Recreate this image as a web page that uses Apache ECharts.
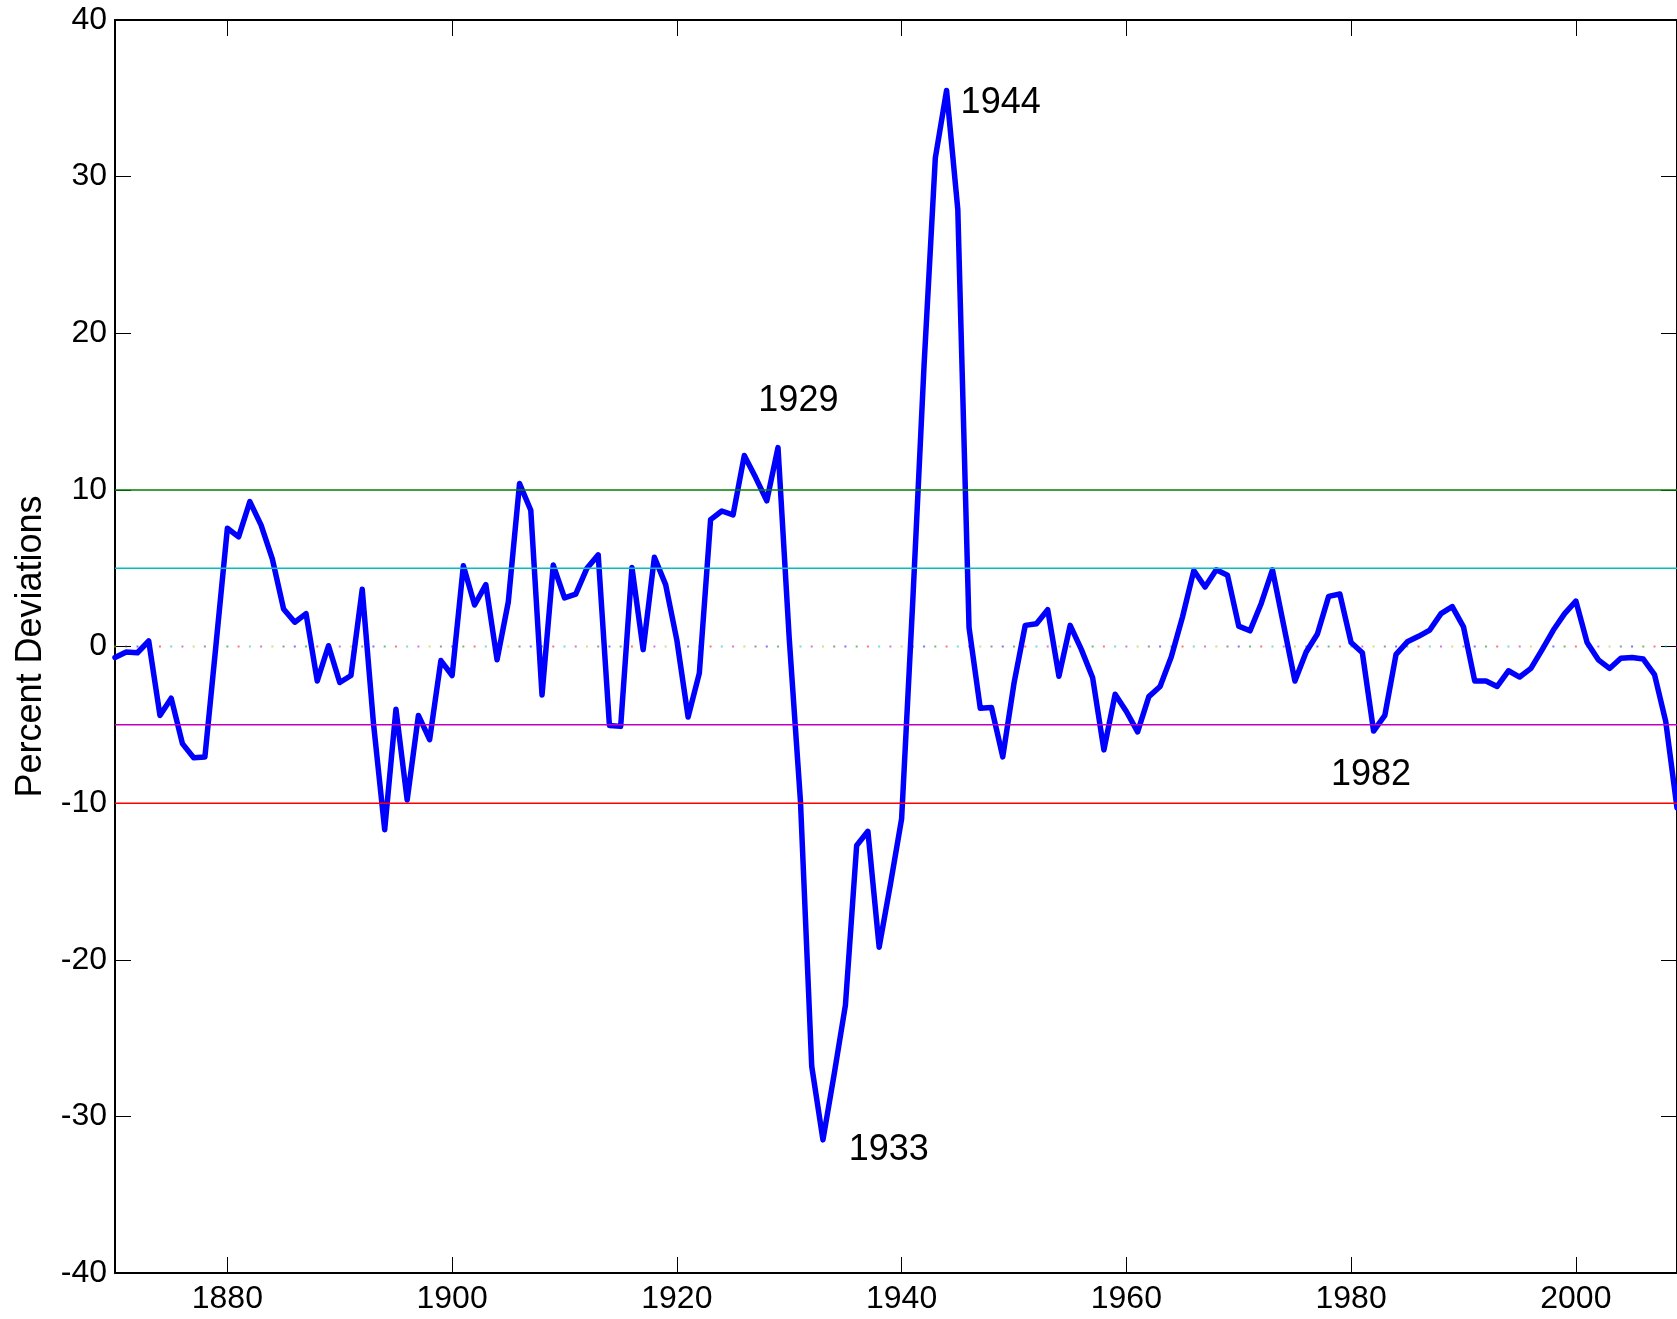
<!DOCTYPE html>
<html>
<head>
<meta charset="utf-8">
<title>Percent Deviations</title>
<script src="https://cdn.jsdelivr.net/npm/echarts@6/dist/echarts.min.js"></script>
<style>
  html, body { margin: 0; padding: 0; background: #fff; }
  #chart { width: 1677px; height: 1319px; }
</style>
</head>
<body>
<div id="chart"></div>
<script>
// years on the x axis
var years = [
  1870, 1871, 1872, 1873, 1874, 1875, 1876, 1877, 1878, 1879,
  1880, 1881, 1882, 1883, 1884, 1885, 1886, 1887, 1888, 1889,
  1890, 1891, 1892, 1893, 1894, 1895, 1896, 1897, 1898, 1899,
  1900, 1901, 1902, 1903, 1904, 1905, 1906, 1907, 1908, 1909,
  1910, 1911, 1912, 1913, 1914, 1915, 1916, 1917, 1918, 1919,
  1920, 1921, 1922, 1923, 1924, 1925, 1926, 1927, 1928, 1929,
  1930, 1931, 1932, 1933, 1934, 1935, 1936, 1937, 1938, 1939,
  1940, 1941, 1942, 1943, 1944, 1945, 1946, 1947, 1948, 1949,
  1950, 1951, 1952, 1953, 1954, 1955, 1956, 1957, 1958, 1959,
  1960, 1961, 1962, 1963, 1964, 1965, 1966, 1967, 1968, 1969,
  1970, 1971, 1972, 1973, 1974, 1975, 1976, 1977, 1978, 1979,
  1980, 1981, 1982, 1983, 1984, 1985, 1986, 1987, 1988, 1989,
  1990, 1991, 1992, 1993, 1994, 1995, 1996, 1997, 1998, 1999,
  2000, 2001, 2002, 2003, 2004, 2005, 2006, 2007, 2008, 2009
];

// percent deviation for each year
var deviations = [
  -0.7, -0.35, -0.4, 0.35, -4.4, -3.3, -6.2, -7.1, -7.05, 0.2,
  7.55, 7.0, 9.25, 7.75, 5.6, 2.4, 1.55, 2.1, -2.2, 0.05,
  -2.3, -1.85, 3.65, -4.9, -11.7, -4.0, -9.8, -4.4, -5.95, -0.9,
  -1.85, 5.15, 2.65, 3.95, -0.85, 2.85, 10.4, 8.7, -3.1, 5.2,
  3.1, 3.35, 5.0, 5.85, -5.05, -5.1, 5.05, -0.2, 5.7, 3.95,
  0.4, -4.5, -1.7, 8.1, 8.65, 8.4, 12.2, 10.8, 9.3, 12.7,
  0.5, -9.9, -26.8, -31.5, -27.3, -22.9, -12.7, -11.8, -19.2, -15.2,
  -11.0, 3.0, 18.0, 31.2, 35.5, 27.9, 1.2, -3.95, -3.9, -7.05,
  -2.35, 1.35, 1.45, 2.35, -1.9, 1.35, -0.2, -2.0, -6.6, -3.05,
  -4.15, -5.45, -3.2, -2.55, -0.65, 1.9, 4.85, 3.8, 4.9, 4.55,
  1.3, 1.0, 2.75, 4.9, 1.35, -2.2, -0.35, 0.8, 3.2, 3.35,
  0.25, -0.4, -5.4, -4.4, -0.5, 0.3, 0.65, 1.05, 2.1, 2.55,
  1.25, -2.2, -2.2, -2.55, -1.55, -1.95, -1.4, -0.2, 1.05, 2.1,
  2.9, 0.25, -0.85, -1.4, -0.75, -0.7, -0.8, -1.8, -4.8, -10.3
];

// horizontal reference levels and their colours
var bandLevels = [10, 5, -5, -10];
var bandColors = ['#008000', '#00BFBF', '#BF00BF', '#FF0000'];

// tick labels
var xTicks = [1880, 1900, 1920, 1940, 1960, 1980, 2000];
var yMin = -40, yMax = 40, yStep = 10;
var xMin = 1870, xMax = 2009;

// text notes next to the big swings
var noteTexts = ['1929', '1933', '1944', '1982'];
var noteYears = [1927.25, 1935.3, 1945.25, 1978.2];
var noteValues = [15.7, -32.15, 34.7, -8.2];

// colours of the dotted zero line (matlab colour order)
var dotColors = ['#0000FF', '#008000', '#FF0000', '#00BFBF', '#BF00BF', '#BFBF00', '#404040'];

var FONT = '"Liberation Sans", Arial, Helvetica, sans-serif';

var lineData = [];
years.forEach(function (y, i) {
  lineData.push([y, deviations[i]]);
});

var zeroDots = [];
years.forEach(function (y, i) {
  zeroDots.push({
    value: [y, 0],
    itemStyle: { color: dotColors[((i - 2) % 7 + 7) % 7] }
  });
});

var notes = [];
noteTexts.forEach(function (t, i) {
  notes.push({ name: t, value: [noteYears[i], noteValues[i]] });
});

var series = [];

series.push({
  type: 'scatter',
  data: zeroDots,
  symbol: 'rect',
  symbolSize: [2, 2],
  itemStyle: { opacity: 0.55 },
  silent: true,
  z: 1
});

series.push({
  type: 'line',
  data: lineData,
  showSymbol: false,
  lineStyle: { color: '#0000FF', width: 5.5, join: 'round', cap: 'round' },
  silent: true,
  z: 2
});

bandLevels.forEach(function (v, i) {
  series.push({
    type: 'line',
    data: [[xMin, v], [xMax, v]],
    showSymbol: false,
    lineStyle: { color: bandColors[i], width: 1.5 },
    silent: true,
    z: 3
  });
});

series.push({
  type: 'scatter',
  data: notes,
  symbolSize: 0,
  itemStyle: { opacity: 1 },
  label: {
    show: true,
    position: 'right',
    distance: 0,
    formatter: '{b}',
    color: '#000',
    opacity: 1,
    fontSize: 36,
    fontFamily: FONT
  },
  silent: true,
  z: 4
});

var tickStyle = { color: '#000', width: 1 };
var axisLine = { show: true, onZero: false, lineStyle: { color: '#000', width: 2 } };

var option = {
  animation: false,
  backgroundColor: '#fff',
  grid: { left: 115, right: 0, top: 20, bottom: 46, containLabel: false },
  xAxis: [{
    type: 'value',
    position: 'bottom',
    min: xMin,
    max: xMax,
    axisLine: axisLine,
    axisTick: { show: true, inside: true, length: 16, lineStyle: tickStyle, customValues: xTicks },
    axisLabel: {
      color: '#000', fontSize: 32, fontFamily: FONT, margin: 10, customValues: xTicks,
      formatter: function (v) { return String(v); }
    },
    splitLine: { show: false }
  }, {
    type: 'value',
    position: 'top',
    min: xMin,
    max: xMax,
    axisLine: axisLine,
    axisTick: { show: true, inside: true, length: 16, lineStyle: tickStyle, customValues: xTicks },
    axisLabel: { show: false },
    splitLine: { show: false }
  }],
  yAxis: [{
    type: 'value',
    position: 'left',
    min: yMin,
    max: yMax,
    interval: yStep,
    name: 'Percent Deviations',
    nameLocation: 'middle',
    nameGap: 66,
    nameTextStyle: { color: '#000', fontSize: 36, fontFamily: FONT },
    axisLine: axisLine,
    axisTick: { show: true, inside: true, length: 16, lineStyle: tickStyle },
    axisLabel: { color: '#000', fontSize: 32, fontFamily: FONT, margin: 8 },
    splitLine: { show: false }
  }, {
    type: 'value',
    position: 'right',
    min: yMin,
    max: yMax,
    interval: yStep,
    axisLine: axisLine,
    axisTick: { show: true, inside: true, length: 16, lineStyle: tickStyle },
    axisLabel: { show: false },
    splitLine: { show: false }
  }],
  series: series
};

var myChart = echarts.init(document.getElementById('chart'));
myChart.setOption(option);
</script>
</body>
</html>
